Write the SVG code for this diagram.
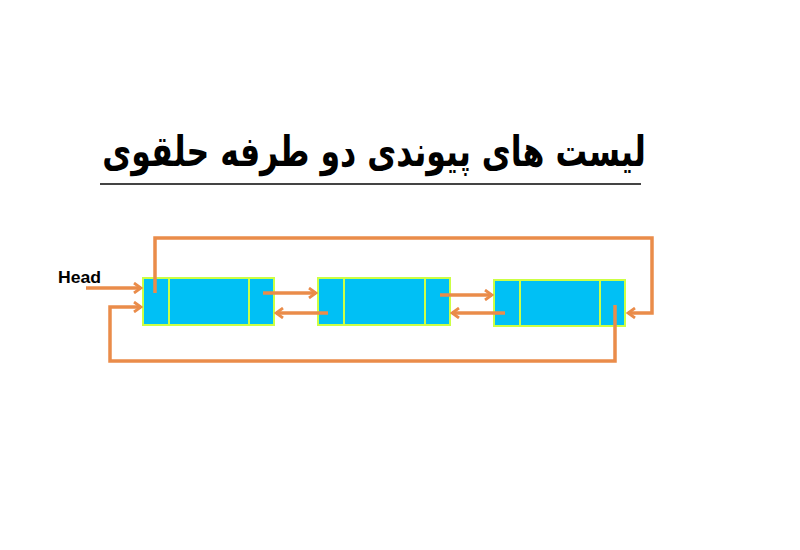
<svg xmlns="http://www.w3.org/2000/svg" width="800" height="550" viewBox="0 0 800 550">
<style>
.cell{fill:#00C0F5;stroke:#CCFF44;stroke-width:2}
.ln{fill:none;stroke:#EA8C4A;stroke-width:3.5;stroke-linejoin:miter}
.ar{marker-end:url(#ah)}
</style>
<defs>
<marker id="ah" viewBox="0 0 12 12" refX="10" refY="6" markerWidth="12" markerHeight="12" markerUnits="userSpaceOnUse" orient="auto">
<path d="M3,1 L10,6 L3,11" fill="none" stroke="#EA8C4A" stroke-width="2.8"/>
</marker>
</defs>
<rect width="800" height="550" fill="#fff"/>
<g id="title">
<text transform="translate(374,166) scale(0.752,1)" x="0" y="0" font-family="DejaVu Sans, sans-serif" font-weight="bold" font-size="42" text-anchor="middle" direction="rtl" fill="#000">لیست های پیوندی دو طرفه حلقوی</text>
<line x1="100" y1="184" x2="641" y2="184" stroke="#444" stroke-width="2"/>
</g>
<g id="node1">
<rect class="cell" x="143" y="278" width="131" height="47"/>
<line class="cell" x1="169" y1="278" x2="169" y2="325"/>
<line class="cell" x1="249" y1="278" x2="249" y2="325"/>
</g>
<g id="node2">
<rect class="cell" x="318" y="278" width="132" height="47"/>
<line class="cell" x1="344" y1="278" x2="344" y2="325"/>
<line class="cell" x1="425" y1="278" x2="425" y2="325"/>
</g>
<g id="node3">
<rect class="cell" x="494" y="280" width="131" height="46"/>
<line class="cell" x1="520" y1="280" x2="520" y2="326"/>
<line class="cell" x1="600" y1="280" x2="600" y2="326"/>
</g>
<g id="head">
<text x="58" y="283" font-family="Liberation Sans, Arial, sans-serif" font-weight="bold" font-size="17" textLength="43" lengthAdjust="spacingAndGlyphs" fill="#000">Head</text>
</g>
<g id="connectors">
<path class="ln ar" d="M86,288 L141,288"/>
<path class="ln ar" d="M155,293 L155,238 L652,238 L652,313 L628,313"/>
<path class="ln ar" d="M615,305 L615,361 L110,361 L110,307 L141,307"/>
<path class="ln ar" d="M263,293 L316,293"/>
<path class="ln ar" d="M328,313 L276,313"/>
<path class="ln ar" d="M440,295 L492,295"/>
<path class="ln ar" d="M505,313 L452,313"/>
</g>
</svg>
